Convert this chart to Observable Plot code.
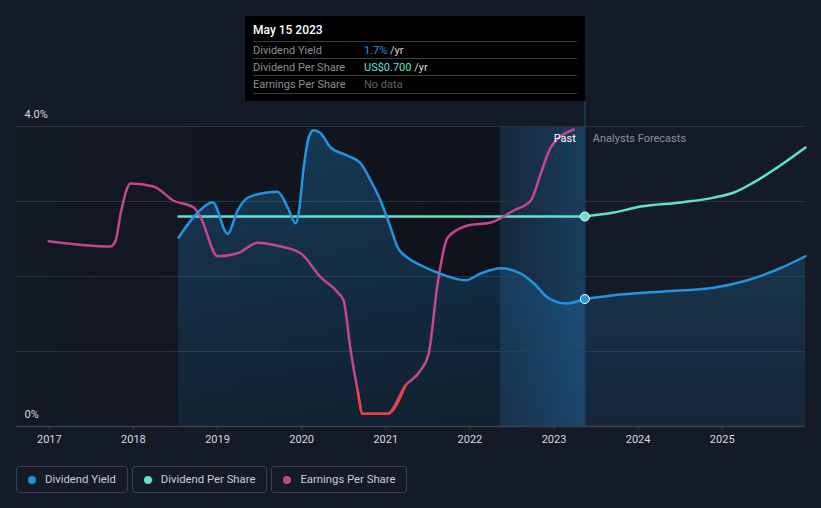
<!DOCTYPE html>
<html>
<head>
<meta charset="utf-8">
<script src="https://cdn.jsdelivr.net/npm/d3@7"></script>
<script src="https://cdn.jsdelivr.net/npm/@observablehq/plot@0.6"></script>
<style>
  html, body { margin: 0; padding: 0; background: #151b26; }
  #wrap { position: relative; width: 821px; height: 508px; background: #151b26; font-family: Roboto, "Noto Sans", sans-serif; overflow: hidden; }
  #tip { position: absolute; left: 245px; top: 16px; width: 340px; height: 85px; background: #000; }
  #tip .title { position: absolute; left: 8px; top: 7px; color: #fff; font-size: 12px; font-weight: 500; }
  #tip .row { position: absolute; left: 8px; width: 324px; height: 17px; border-top: 1px solid #3a3d42; font-size: 11px; line-height: 17px; }
  #tip .row.last { border-bottom: 1px solid #3a3d42; }
  #tip .lab { position: absolute; left: 0; color: #8a8f97; }
  #tip .val { position: absolute; left: 111px; color: #d6d9de; }
  #legend { position: absolute; left: 16px; top: 466px; display: flex; gap: 4px; }
  .lg { box-sizing: border-box; height: 27px; border: 1px solid #3a3f49; border-radius: 3px; display: flex; align-items: center; padding: 0 11px 0 11px; color: #c9ccd2; font-size: 11.3px; }
  .lg .dot { width: 8px; height: 8px; border-radius: 50%; margin-right: 9px; }
</style>
</head>
<body>
<div id="wrap">
  <div id="chart"></div>
  <div id="tip"></div>
  <div id="legend"></div>
</div>
<script>
// ---- data (x in decimal years) ----
const yieldYears = [2018.537, 2018.763, 2018.942, 2019.120, 2019.239, 2019.358, 2019.596, 2019.715, 2019.834, 2019.929, 2019.964, 2020.024, 2020.083, 2020.143, 2020.226, 2020.345, 2020.547, 2020.701, 2020.820, 2020.939, 2021.058, 2021.141, 2021.260, 2021.415, 2021.617, 2021.950, 2022.128, 2022.366, 2022.604, 2022.759, 2022.925, 2023.139, 2023.367];
const yieldPct   = [2.52, 2.85, 2.99, 2.57, 2.88, 3.05, 3.12, 3.13, 2.92, 2.71, 2.84, 3.45, 3.85, 3.95, 3.91, 3.72, 3.61, 3.51, 3.28, 3.01, 2.65, 2.39, 2.25, 2.15, 2.05, 1.95, 2.04, 2.11, 2.04, 1.91, 1.72, 1.64, 1.70];
const yieldFcYears = [2023.367, 2023.71, 2024.30, 2024.90, 2025.30, 2025.69, 2025.99];
const yieldFcPct   = [1.70, 1.75, 1.80, 1.85, 1.95, 2.11, 2.27];

const dpsYears = [2018.537, 2019.5, 2020.5, 2021.5, 2022.5, 2023.367];
const dpsUSD   = [0.70, 0.70, 0.70, 0.70, 0.70, 0.70];
const dpsFcYears = [2023.367, 2023.71, 2024.03, 2024.51, 2024.90, 2025.14, 2025.37, 2025.69, 2025.99];
const dpsFcUSD   = [0.70, 0.713, 0.733, 0.747, 0.763, 0.78, 0.813, 0.87, 0.93];
const dpsToChart = 4; // DPS drawn on its own scale, mapped onto the chart's axis

const epsYears = [2016.992, 2017.729, 2017.789, 2017.85, 2017.967, 2018.240, 2018.478, 2018.716, 2018.799, 2019.001, 2019.239, 2019.477, 2019.715, 2019.988, 2020.226, 2020.428, 2020.499, 2020.583, 2020.666, 2020.725, 2021.022, 2021.236, 2021.415, 2021.510, 2021.617, 2021.736, 2021.974, 2022.248, 2022.521, 2022.723, 2022.842, 2022.961, 2023.234];
const epsVal   = [2.47, 2.40, 2.48, 2.85, 3.24, 3.20, 3.01, 2.92, 2.79, 2.27, 2.31, 2.45, 2.41, 2.31, 1.99, 1.79, 1.68, 1.01, 0.48, 0.17, 0.17, 0.55, 0.75, 0.97, 1.91, 2.52, 2.68, 2.72, 2.88, 3.01, 3.37, 3.72, 3.96];
const epsLowThreshold = 0.56;

const xTicks = [2017, 2018, 2019, 2020, 2021, 2022, 2023, 2024, 2025];
const yLabels = [{v: 4, t: "4.0%"}, {v: 0, t: "0%"}];
const gridValues = [1, 2, 3, 4];
const xDomain = [2016.61, 2025.99];
const nowYear = 2023.367;
const bandStart = 2022.366;

const seriesNames = ["Dividend Yield", "Dividend Per Share", "Earnings Per Share"];
const seriesColors = ["#2394df", "#5fe3cf", "#c4478d"];
const lowColor = "#e8423b";

const tipDate = "May 15 2023";
const tipValues = [["1.7%", " /yr"], ["US$0.700", " /yr"], [null, "No data"]];

// ---- build tables ----
const yieldPast = yieldYears.map((x, i) => ({x, y: yieldPct[i]}));
const yieldFc = yieldFcYears.map((x, i) => ({x, y: yieldFcPct[i]}));
const yieldAll = yieldPast.concat(yieldFc.slice(1));
const dpsPast = dpsYears.map((x, i) => ({x, y: dpsUSD[i] * dpsToChart}));
const dpsFc = dpsFcYears.map((x, i) => ({x, y: dpsFcUSD[i] * dpsToChart}));
const eps = epsYears.map((x, i) => ({x, y: epsVal[i]}));
const epsLow = eps.filter(d => d.y < epsLowThreshold);

function defs() {
  const ns = "http://www.w3.org/2000/svg";
  const d = document.createElementNS(ns, "defs");
  function grad(id, x2, y2, stops) {
    const g = document.createElementNS(ns, "linearGradient");
    g.setAttribute("id", id);
    g.setAttribute("x1", "0"); g.setAttribute("y1", "0");
    g.setAttribute("x2", x2); g.setAttribute("y2", y2);
    for (const [o, c, a] of stops) {
      const s = document.createElementNS(ns, "stop");
      s.setAttribute("offset", o); s.setAttribute("stop-color", c); s.setAttribute("stop-opacity", a);
      g.appendChild(s);
    }
    d.appendChild(g);
  }
  grad("pastGrad", "1", "0", [["0", "#05080c", 0.08], ["1", "#05080c", 0.45]]);
  grad("bandGrad", "1", "0", [["0", "#1a4a74", 0.28], ["1", "#1c5686", 0.6]]);
  grad("areaGrad", "0", "1", [["0", "#2394df", 0.28], ["1", "#2394df", 0.10]]);
  return d;
}

const chart = Plot.plot({
  width: 821,
  height: 458,
  marginTop: 126,
  marginBottom: 32,
  marginLeft: 16,
  marginRight: 16,
  style: {background: "transparent", color: "#d6d9de", fontFamily: "Roboto, sans-serif", fontSize: "11px"},
  x: {type: "linear", domain: xDomain, axis: null},
  y: {type: "linear", domain: [0, 4], axis: null},
  marks: [
    defs,
    Plot.rect([0], {x1: xDomain[0], x2: bandStart, y1: 0, y2: 4, fill: "url(#pastGrad)"}),
    Plot.rect([0], {x1: bandStart, x2: nowYear, y1: 0, y2: 4, fill: "url(#bandGrad)"}),
    Plot.ruleY(gridValues, {stroke: "#2b313b", strokeWidth: 1}),
    Plot.areaY(yieldAll, {x: "x", y: "y", curve: "monotone-x", fill: "url(#areaGrad)"}),
    Plot.ruleX([nowYear], {y1: 0, y2: 4.34, stroke: "#1d4668", strokeWidth: 1.2}),
    Plot.axisX({ticks: xTicks, tickFormat: d => String(d), tickSize: 4, tickPadding: 5, label: null, fill: "#d6d9de", fontSize: 11, stroke: "#3b414b"}),
    Plot.ruleY([0], {stroke: "#3b414b", strokeWidth: 1.5}),
    Plot.text(yLabels, {x: () => xDomain[0], y: "v", text: "t", dx: 8, dy: -12, textAnchor: "start", fill: "#d6d9de", fontSize: 11}),
    Plot.line(dpsPast, {x: "x", y: "y", stroke: seriesColors[1], strokeWidth: 2.5}),
    Plot.line(dpsFc, {x: "x", y: "y", curve: "monotone-x", stroke: seriesColors[1], strokeWidth: 2.5}),
    Plot.line(eps, {x: "x", y: "y", curve: "monotone-x", stroke: seriesColors[2], strokeWidth: 2.5}),
    Plot.line(epsLow, {x: "x", y: "y", curve: "monotone-x", stroke: lowColor, strokeWidth: 2.5}),
    Plot.line(yieldPast, {x: "x", y: "y", curve: "monotone-x", stroke: seriesColors[0], strokeWidth: 2.5}),
    Plot.line(yieldFc, {x: "x", y: "y", curve: "monotone-x", stroke: seriesColors[0], strokeWidth: 2.5}),
    Plot.text(["Past"], {x: nowYear, y: 4, dx: -9, dy: 12, textAnchor: "end", fill: "#ffffff", fontSize: 11}),
    Plot.text(["Analysts Forecasts"], {x: nowYear, y: 4, dx: 8, dy: 12, textAnchor: "start", fill: "#8c919a", fontSize: 11}),
    Plot.dot([dpsPast[dpsPast.length - 1]], {x: "x", y: "y", r: 4.5, fill: seriesColors[1], stroke: "#ffffff", strokeWidth: 1}),
    Plot.dot([yieldPast[yieldPast.length - 1]], {x: "x", y: "y", r: 4.5, fill: seriesColors[0], stroke: "#ffffff", strokeWidth: 1})
  ]
});
document.getElementById("chart").appendChild(chart);

// tooltip
const tip = document.getElementById("tip");
const t = document.createElement("div");
t.className = "title"; t.textContent = tipDate; tip.appendChild(t);
const rowTops = [25, 42, 59];
seriesNames.forEach((name, i) => {
  const r = document.createElement("div");
  r.className = "row" + (i === 2 ? " last" : "");
  r.style.top = rowTops[i] + "px";
  const l = document.createElement("span"); l.className = "lab"; l.textContent = name; r.appendChild(l);
  const v = document.createElement("span"); v.className = "val";
  const [num, unit] = tipValues[i];
  if (num) {
    const n = document.createElement("span"); n.style.color = seriesColors[i]; n.textContent = num; v.appendChild(n);
    v.appendChild(document.createTextNode(unit));
  } else {
    v.style.color = "#5c6068"; v.textContent = unit;
  }
  r.appendChild(v);
  tip.appendChild(r);
});

// legend
const lg = document.getElementById("legend");
seriesNames.forEach((name, i) => {
  const b = document.createElement("div"); b.className = "lg";
  const d = document.createElement("span"); d.className = "dot"; d.style.background = seriesColors[i]; b.appendChild(d);
  const s = document.createElement("span"); s.textContent = name; b.appendChild(s);
  lg.appendChild(b);
});
</script>
</body>
</html>
